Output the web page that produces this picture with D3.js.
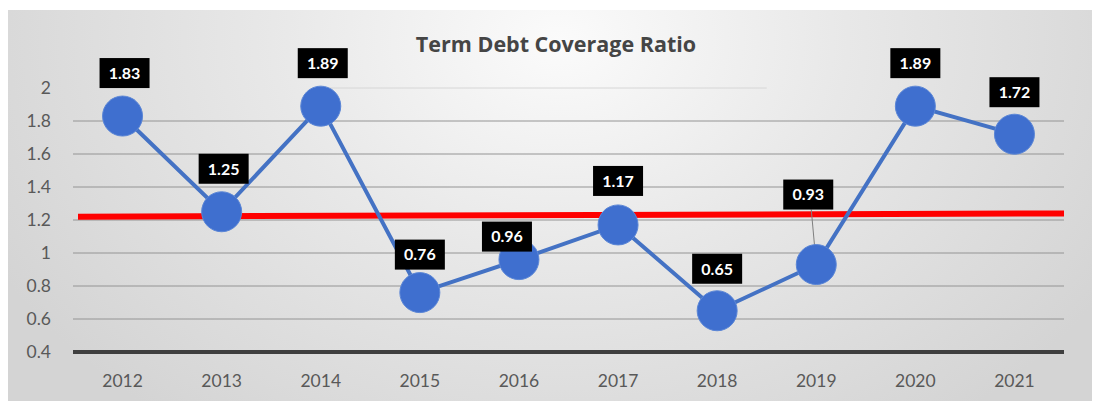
<!DOCTYPE html>
<html>
<head>
<meta charset="utf-8">
<script src="https://cdn.jsdelivr.net/npm/d3@7/dist/d3.min.js"></script>
<style>
  html, body { margin: 0; padding: 0; background: #fff; }
  svg { display: block; }
</style>
</head>
<body>
<svg id="chart" width="1097" height="401"></svg>
<script>
// Term debt coverage ratio by year
const years = ["2012", "2013", "2014", "2015", "2016", "2017", "2018", "2019", "2020", "2021"];
const ratios = [1.83, 1.25, 1.89, 0.76, 0.96, 1.17, 0.65, 0.93, 1.89, 1.72];
const thresholdLine = [1.22, 1.24];          // start / end value of the red reference line
const yTicks = [0.4, 0.6, 0.8, 1, 1.2, 1.4, 1.6, 1.8, 2];
const titleText = "Term Debt Coverage Ratio";

// label box offsets from each point (layout only)
const labelShift = [
  [2, -43], [2, -43], [2, -43], [0, -38], [-12, -23],
  [0, -44], [0, -42], [-8, -70], [0, -43], [0, -42]
];

const W = 1097, H = 401;
const plot = { left: 73, right: 1064, top: 88, bottom: 352 };
const axisFont = "Lato, 'Open Sans', sans-serif";

const svg = d3.select("#chart");
const defs = svg.append("defs");

const bg = defs.append("radialGradient")
  .attr("id", "bgGrad")
  .attr("gradientUnits", "userSpaceOnUse")
  .attr("cx", 560).attr("cy", 40).attr("r", 640)
  .attr("gradientTransform", "translate(560,40) scale(1,0.75) translate(-560,-40)");
bg.append("stop").attr("offset", 0).attr("stop-color", "#fbfbfb");
bg.append("stop").attr("offset", 0.45).attr("stop-color", "#e8e8e8");
bg.append("stop").attr("offset", 1).attr("stop-color", "#d4d4d4");

svg.append("rect")
  .attr("x", 8).attr("y", 10).attr("width", 1084).attr("height", H - 10)
  .attr("fill", "url(#bgGrad)");

const x = d3.scaleBand().domain(years).range([plot.left, plot.right]);
const y = d3.scaleLinear().domain([0.4, 2]).range([plot.bottom, plot.top]);
const cx = d => x(d) + x.bandwidth() / 2;

// horizontal gridlines
svg.append("g")
  .selectAll("line")
  .data(yTicks.filter(v => v > 0.4 && v < 2))
  .join("line")
  .attr("x1", plot.left).attr("x2", plot.right)
  .attr("y1", d => y(d)).attr("y2", d => y(d))
  .attr("stroke", "#949494").attr("stroke-width", 1);

// faint top gridline under the title
svg.append("line")
  .attr("x1", x("2014") + x.bandwidth() * 0.55).attr("x2", x("2018") + x.bandwidth())
  .attr("y1", y(2)).attr("y2", y(2))
  .attr("stroke", "#d6d6d6").attr("stroke-width", 1);

// y axis labels
const yAxis = svg.append("g")
  .attr("transform", `translate(${plot.left},0)`)
  .call(d3.axisLeft(y).tickValues(yTicks).tickSize(0).tickPadding(22)
    .tickFormat(d => String(+d.toFixed(1))));
yAxis.select(".domain").remove();
yAxis.selectAll("text")
  .attr("font-family", axisFont)
  .attr("font-size", 17.5).attr("fill", "#595959");

// x axis labels
const xAxis = svg.append("g")
  .attr("transform", `translate(0,${plot.bottom})`)
  .call(d3.axisBottom(x).tickSize(0).tickPadding(29));
xAxis.select(".domain").remove();
xAxis.selectAll("text")
  .attr("dy", "0.32em")
  .attr("font-family", axisFont)
  .attr("font-size", 17.5).attr("fill", "#595959");

// baseline
svg.append("line")
  .attr("x1", plot.left).attr("x2", plot.right)
  .attr("y1", y(0.4)).attr("y2", y(0.4))
  .attr("stroke", "#3f3f3f").attr("stroke-width", 4);

// red reference line
svg.append("line")
  .attr("x1", plot.left + 5).attr("x2", plot.right)
  .attr("y1", y(thresholdLine[0])).attr("y2", y(thresholdLine[1]))
  .attr("stroke", "#ff0000").attr("stroke-width", 6);

// series line
const line = d3.line().x((d, i) => cx(years[i])).y(d => y(d));
svg.append("path")
  .datum(ratios)
  .attr("d", line)
  .attr("fill", "none")
  .attr("stroke", "#4472c4")
  .attr("stroke-width", 4);

// leader line for the raised label
const leaderIdx = 7;
svg.append("line")
  .attr("x1", cx(years[leaderIdx]) + labelShift[leaderIdx][0] + 3)
  .attr("y1", y(ratios[leaderIdx]) + labelShift[leaderIdx][1] + 15)
  .attr("x2", cx(years[leaderIdx]))
  .attr("y2", y(ratios[leaderIdx]))
  .attr("stroke", "#7f7f7f").attr("stroke-width", 1);

// markers
svg.append("g")
  .selectAll("circle")
  .data(ratios)
  .join("circle")
  .attr("cx", (d, i) => cx(years[i]))
  .attr("cy", d => y(d))
  .attr("r", 20)
  .attr("fill", "#3f6fcf")
  .attr("stroke", "#5b86d6").attr("stroke-width", 1);

// value labels
const labels = svg.append("g")
  .selectAll("g")
  .data(ratios)
  .join("g")
  .attr("transform", (d, i) =>
    `translate(${cx(years[i]) + labelShift[i][0]},${y(d) + labelShift[i][1]})`);
labels.append("rect")
  .attr("x", -25).attr("y", -15).attr("width", 50).attr("height", 30)
  .attr("fill", "#000");
labels.append("text")
  .attr("text-anchor", "middle")
  .attr("dy", "0.36em")
  .attr("font-family", "Lato, 'Open Sans', sans-serif")
  .attr("font-weight", "bold")
  .attr("font-size", 16)
  .attr("fill", "#fff")
  .text(d => d.toFixed(2));

// title
svg.append("text")
  .attr("x", 556).attr("y", 44)
  .attr("text-anchor", "middle")
  .attr("dy", "0.35em")
  .attr("font-family", "'Open Sans', Lato, sans-serif")
  .attr("font-weight", "bold")
  .attr("font-size", 21.5)
  .attr("fill", "#454545")
  .text(titleText);
</script>
</body>
</html>
